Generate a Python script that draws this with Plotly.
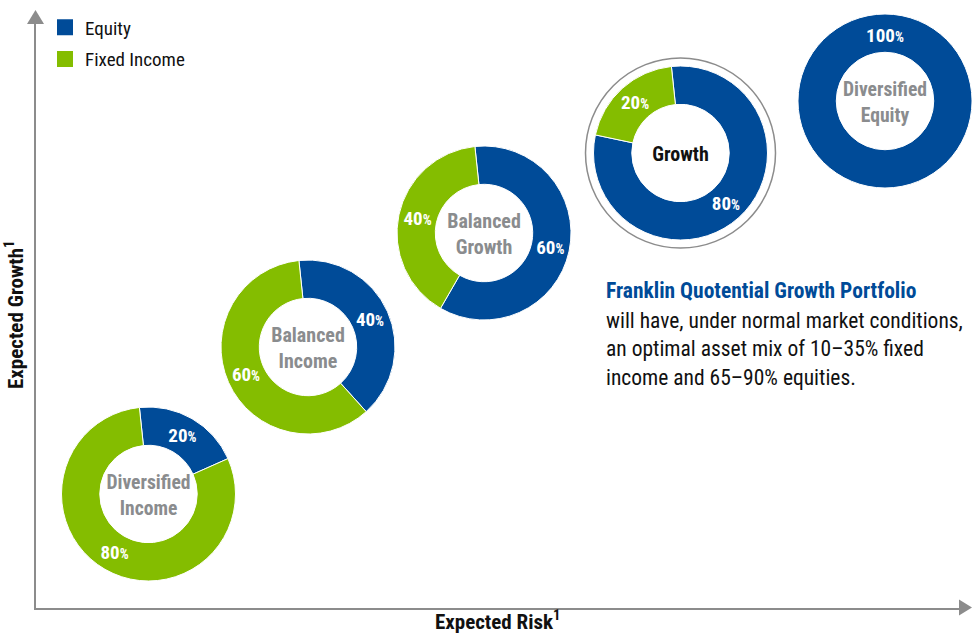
import plotly.graph_objects as go

# ---------------- data ----------------
portfolios = ["Diversified<br>Income", "Balanced<br>Income", "Balanced<br>Growth", "Growth", "Diversified<br>Equity"]
asset_classes = ["Equity", "Fixed Income"]
equity_pct = [20, 40, 60, 80, 100]
fixed_income_pct = [80, 60, 40, 20, 0]

heading = "Franklin Quotential Growth Portfolio"
body_lines = [
    "will have, under normal market conditions,",
    "an optimal asset mix of 10\u201335% fixed",
    "income and 65\u201390% equities.",
]
x_title = "Expected Risk<sup>1</sup>"
y_title = "Expected Growth<sup>1</sup>"

# ---------------- style / layout ----------------
W, H = 972, 634
FONT = "Roboto Condensed, Roboto, sans-serif"
BLUE = "#004B98"
GREEN = "#84BD00"
GREY = "#8A8C8E"
AXIS = "#8C8C8C"
colors = {"Equity": BLUE, "Fixed Income": GREEN}

centers = [(148.5, 494), (308, 347), (484, 233), (680.5, 153), (885, 101)]
R = 87
rotations = [-6, -6, -6, -6, 180]
title_colors = [GREY, GREY, GREY, "#111111", GREY]


def px_x(x):
    return x / W


def px_y(y):
    return 1 - y / H


def font(size, color, bold=False):
    return dict(family=FONT, size=size, color=color, weight="bold" if bold else "normal")


fig = go.Figure()

# donuts
for i, name in enumerate(portfolios):
    cx, cy = centers[i]
    labels, vals = [], []
    for lab, v in zip(asset_classes, [equity_pct[i], fixed_income_pct[i]]):
        if v > 0:
            labels.append(lab)
            vals.append(v)
    fig.add_trace(go.Pie(
        labels=labels,
        values=vals,
        hole=0.56,
        sort=False,
        direction="clockwise",
        rotation=rotations[i],
        marker=dict(colors=[colors[l] for l in labels], line=dict(color="white", width=1)),
        texttemplate="%{value}<span style='font-size:14px'>%</span>",
        textposition="inside",
        insidetextorientation="horizontal",
        textfont=font(19, "white", True),
        title=dict(text=name, position="middle center", font=font(20, title_colors[i], True)),
        domain=dict(x=[px_x(cx - R), min(1, px_x(cx + R))], y=[px_y(cy + R), px_y(cy - R)]),
        showlegend=False,
        hoverinfo="label+percent",
    ))

# legend entries
for lab in asset_classes:
    fig.add_trace(go.Scatter(
        x=[None], y=[None], mode="markers", name=lab, legendgroup=lab,
        marker=dict(symbol="square", size=16, color=colors[lab]),
    ))

shapes = [
    # ring around Growth
    dict(type="circle", xref="paper", yref="paper",
         x0=px_x(centers[3][0] - 95), x1=px_x(centers[3][0] + 95),
         y0=px_y(centers[3][1] + 95), y1=px_y(centers[3][1] - 95),
         line=dict(color=AXIS, width=1.5)),
    # arrowheads
    dict(type="path", xref="paper", yref="paper",
         path=f"M {px_x(27)} {px_y(24)} L {px_x(35.5)} {px_y(10)} L {px_x(44)} {px_y(24)} Z",
         fillcolor=AXIS, line=dict(width=0)),
    dict(type="path", xref="paper", yref="paper",
         path=f"M {px_x(959)} {px_y(599.5)} L {px_x(972)} {px_y(607.5)} L {px_x(959)} {px_y(615.5)} Z",
         fillcolor=AXIS, line=dict(width=0)),
]

annotations = [
    dict(text=heading, x=px_x(604), y=px_y(290), xref="paper", yref="paper",
         xanchor="left", yanchor="middle", showarrow=False, font=font(21.5, BLUE, True)),
]
for k, line in enumerate(body_lines):
    annotations.append(dict(text=line, x=px_x(604), y=px_y(320 + 28.5 * k), xref="paper", yref="paper",
                            xanchor="left", yanchor="middle", showarrow=False,
                            font=font(21.5, "#111111")))

fig.update_layout(
    width=W, height=H,
    margin=dict(l=0, r=0, t=0, b=0),
    paper_bgcolor="white", plot_bgcolor="white",
    xaxis=dict(domain=[px_x(35.5), px_x(960)], range=[0, 1], showline=True, linecolor=AXIS, linewidth=2,
               showgrid=False, zeroline=False, showticklabels=False, ticks="", fixedrange=True,
               title=dict(text=x_title, font=font(21, "#111111", True), standoff=6)),
    yaxis=dict(domain=[px_y(607.5), px_y(22)], range=[0, 1], showline=True, linecolor=AXIS, linewidth=2,
               showgrid=False, zeroline=False, showticklabels=False, ticks="", fixedrange=True,
               title=dict(text=y_title, font=font(21, "#111111", True), standoff=6)),
    legend=dict(x=px_x(45), y=px_y(8.5), xanchor="left", yanchor="top",
                font=font(19, "#111111"),
                bgcolor="rgba(0,0,0,0)", tracegroupgap=4, itemclick=False, itemdoubleclick=False),
    shapes=shapes,
    annotations=annotations,
    font=dict(family=FONT),
)

fig.write_html("out.html", config={"displayModeBar": False},
               post_script="document.body.style.margin='0px';")
